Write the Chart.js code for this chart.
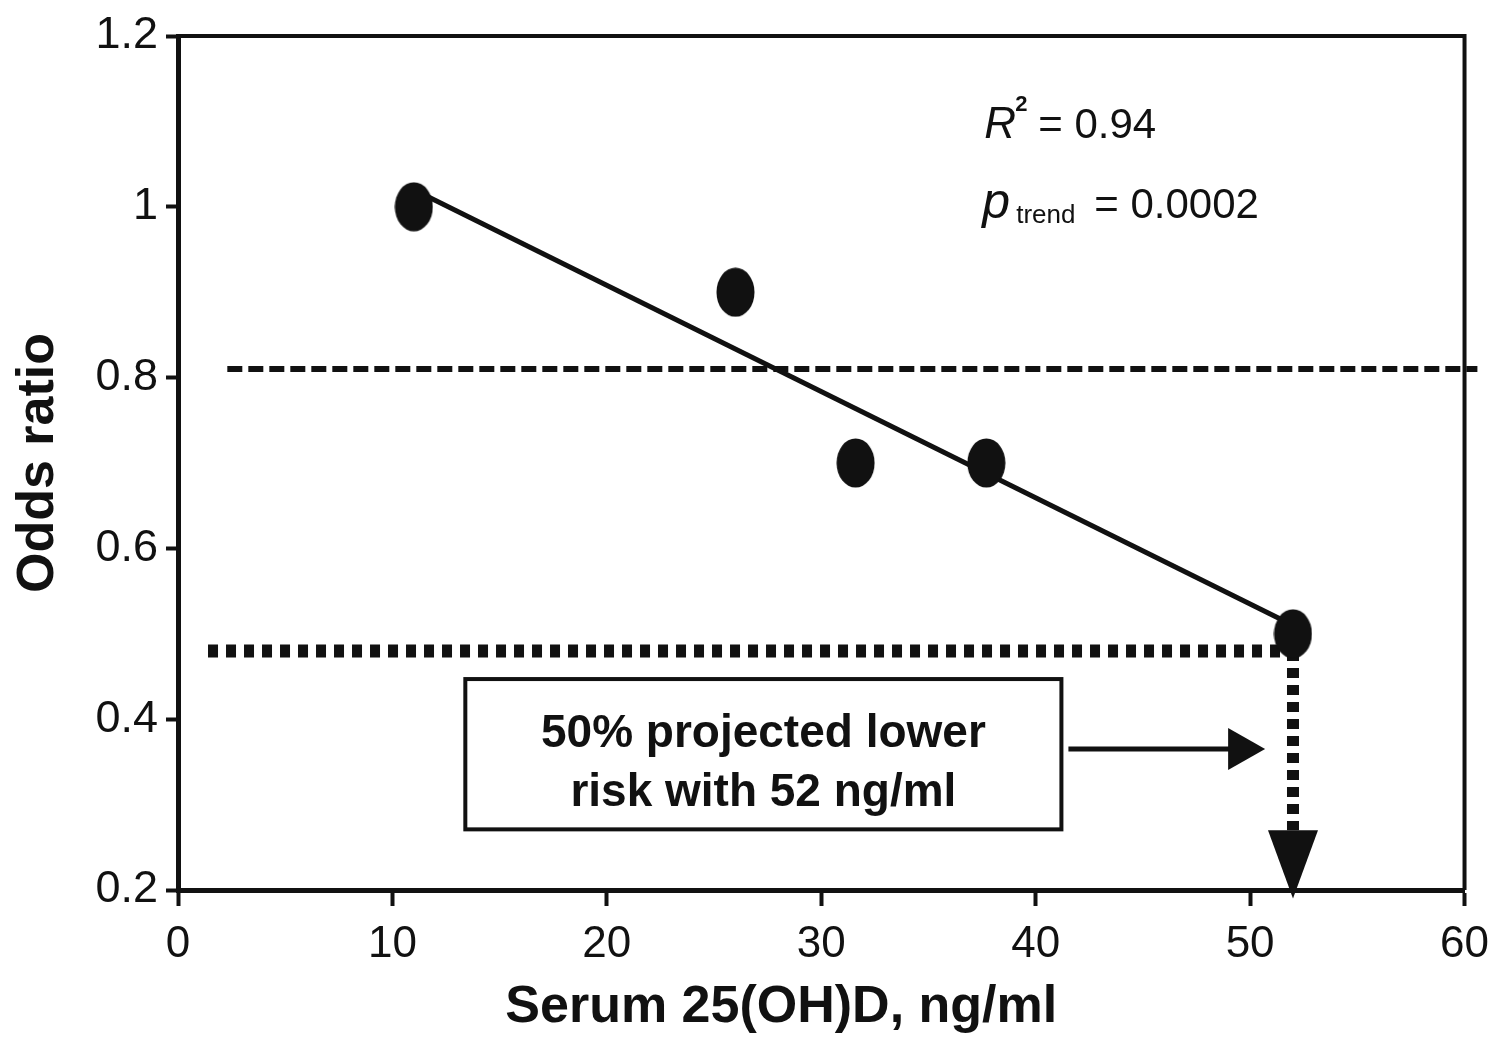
<!DOCTYPE html>
<html>
<head>
<meta charset="utf-8">
<title>Serum 25(OH)D and odds ratio</title>
<script src="https://cdn.jsdelivr.net/npm/chart.js@4.4.1/dist/chart.umd.min.js"></script>
<style>
  html, body { margin: 0; padding: 0; background: #ffffff; }
  canvas { display: block; }
</style>
</head>
<body>
<canvas id="chart" width="1501" height="1038"></canvas>
<script>
// Odds ratio by serum 25(OH)D level (ng/ml)
const serum = [11, 26, 31.6, 37.7, 52];
const oddsRatio = [1.0, 0.9, 0.7, 0.7, 0.5];

// fitted trend line, end points
const trendX = [11, 52];
const trendY = [1.02, 0.51];

// dashed reference line
const refX = [2.3, 60.6];
const refY = [0.81, 0.81];

// projected risk guide lines
const projX = [1.4, 51.5];
const projY = [0.48, 0.48];
const dropX = [52, 52];
const dropY = [0.48, 0.27];
const dropTipY = 0.19;

// axis ticks
const xTicks = [0, 10, 20, 30, 40, 50, 60];
const yTicks = [0.2, 0.4, 0.6, 0.8, 1, 1.2];
const yTickLabels = ['0.2', '0.4', '0.6', '0.8', '1', '1.2'];

// text
const xTitle = 'Serum 25(OH)D, ng/ml';
const yTitle = 'Odds ratio';
const noteLines = ['50% projected lower', 'risk with 52 ng/ml'];
const r2Text = '0.94';
const pTrendText = '0.0002';

const FONT = '"Liberation Sans", Arial, Helvetica, sans-serif';
const INK = '#111111';

const pairs = (xs, ys) => xs.map((v, i) => ({ x: v, y: ys[i] }));

// filled ellipse used as the point marker
function ellipseMarker(w, h) {
  const c = document.createElement('canvas');
  c.width = w; c.height = h;
  const g = c.getContext('2d');
  g.fillStyle = INK;
  g.beginPath();
  g.ellipse(w / 2, h / 2, w / 2 - 0.5, h / 2 - 0.5, 0, 0, Math.PI * 2);
  g.fill();
  return c;
}
const marker = ellipseMarker(39, 50);

const overlay = {
  id: 'overlay',
  afterDatasetsDraw(chart) {
    const { ctx, chartArea: a, scales: { x, y } } = chart;
    ctx.save();
    ctx.strokeStyle = INK;
    ctx.fillStyle = INK;

    // top and right frame
    ctx.lineWidth = 4;
    ctx.beginPath();
    ctx.moveTo(a.left, a.top);
    ctx.lineTo(a.right, a.top);
    ctx.lineTo(a.right, a.bottom);
    ctx.stroke();

    // downward arrow head at the end of the drop line
    const dx = x.getPixelForValue(dropX[1]);
    const baseY = y.getPixelForValue(dropY[1]);
    const tipY = y.getPixelForValue(dropTipY);
    ctx.beginPath();
    ctx.moveTo(dx - 25, baseY);
    ctx.lineTo(dx + 25, baseY);
    ctx.lineTo(dx, tipY);
    ctx.closePath();
    ctx.fill();

    // note box
    const bx0 = x.getPixelForValue(13.4), bx1 = x.getPixelForValue(41.2);
    const by0 = y.getPixelForValue(0.447), by1 = y.getPixelForValue(0.271);
    ctx.lineWidth = 4;
    ctx.fillStyle = '#ffffff';
    ctx.fillRect(bx0, by0, bx1 - bx0, by1 - by0);
    ctx.strokeRect(bx0, by0, bx1 - bx0, by1 - by0);
    ctx.fillStyle = INK;
    ctx.font = 'bold 46px ' + FONT;
    ctx.textAlign = 'center';
    ctx.textBaseline = 'alphabetic';
    const cx = (bx0 + bx1) / 2;
    ctx.fillText(noteLines[0], cx, by0 + 68);
    ctx.fillText(noteLines[1], cx, by0 + 127);

    // arrow from the box to the drop line
    const ay = y.getPixelForValue(0.365);
    const tipX = x.getPixelForValue(50.7);
    ctx.lineWidth = 5;
    ctx.beginPath();
    ctx.moveTo(bx1 + 7, ay);
    ctx.lineTo(tipX - 34, ay);
    ctx.stroke();
    ctx.beginPath();
    ctx.moveTo(tipX - 37, ay - 21);
    ctx.lineTo(tipX, ay);
    ctx.lineTo(tipX - 37, ay + 21);
    ctx.closePath();
    ctx.fill();

    // fit statistics
    const sx = x.getPixelForValue(37.6);
    const r2Base = y.getPixelForValue(1.08);
    ctx.textAlign = 'left';
    ctx.font = 'italic 44px ' + FONT;
    ctx.fillText('R', sx, r2Base);
    ctx.font = 'bold 22px ' + FONT;
    ctx.fillText('2', sx + 31, r2Base - 27);
    ctx.font = '42px ' + FONT;
    ctx.fillText('= ' + r2Text, sx + 54, r2Base);

    const pBase = y.getPixelForValue(0.987);
    ctx.font = 'italic 50px ' + FONT;
    ctx.fillText('p', sx - 2, pBase);
    ctx.font = '26px ' + FONT;
    ctx.fillText('trend', sx + 32, pBase + 5);
    ctx.font = '42px ' + FONT;
    ctx.fillText('= ' + pTrendText, sx + 110, pBase);

    // x axis title
    ctx.font = 'bold 52px ' + FONT;
    ctx.textAlign = 'center';
    ctx.textBaseline = 'middle';
    ctx.fillText(xTitle, (a.left + a.right) / 2 - 40, 1008);

    ctx.restore();
  }
};

new Chart(document.getElementById('chart'), {
  type: 'scatter',
  data: {
    datasets: [
      {
        label: 'Odds ratio',
        data: pairs(serum, oddsRatio),
        pointStyle: marker,
        showLine: false,
        order: 0
      },
      {
        label: 'Trend',
        data: pairs(trendX, trendY),
        showLine: true,
        borderColor: INK,
        borderWidth: 5,
        pointRadius: 0,
        order: 1
      },
      {
        label: 'Reference',
        data: pairs(refX, refY),
        showLine: true,
        borderColor: INK,
        borderWidth: 6,
        borderDash: [15, 6],
        pointRadius: 0,
        clip: false,
        order: 2
      },
      {
        label: 'Projection',
        data: pairs(projX, projY),
        showLine: true,
        borderColor: INK,
        borderWidth: 13,
        borderDash: [10, 8],
        pointRadius: 0,
        clip: false,
        order: 3
      },
      {
        label: 'Drop',
        data: pairs(dropX, dropY),
        showLine: true,
        borderColor: INK,
        borderWidth: 12,
        borderDash: [10, 7],
        pointRadius: 0,
        clip: false,
        order: 4
      }
    ]
  },
  options: {
    responsive: false,
    animation: false,
    devicePixelRatio: 1,
    layout: { padding: { top: 36, right: 34, bottom: 0, left: 0 } },
    plugins: {
      legend: { display: false },
      tooltip: { enabled: false }
    },
    scales: {
      x: {
        type: 'linear',
        min: 0,
        max: 60,
        afterBuildTicks: s => { s.ticks = xTicks.map(v => ({ value: v })); },
        afterFit: s => { s.height = 148; },
        border: { display: true, color: INK, width: 5 },
        grid: { display: true, drawOnChartArea: false, drawTicks: true, tickLength: 16, tickWidth: 4, tickColor: INK },
        ticks: { color: INK, font: { family: FONT, size: 44 }, padding: 12, maxRotation: 0 },
        title: { display: false }
      },
      y: {
        type: 'linear',
        min: 0.2,
        max: 1.2,
        afterBuildTicks: s => { s.ticks = yTicks.map(v => ({ value: v })); },
        afterFit: s => { s.width = 178; },
        border: { display: true, color: INK, width: 5 },
        grid: { display: true, drawOnChartArea: false, drawTicks: true, tickLength: 12, tickWidth: 4, tickColor: INK },
        ticks: {
          color: INK,
          font: { family: FONT, size: 45 },
          padding: 8,
          callback: (v) => { const i = yTicks.indexOf(v); return i >= 0 ? yTickLabels[i] : ''; }
        },
        title: {
          display: true,
          text: yTitle,
          color: INK,
          font: { family: FONT, size: 52, weight: 'bold' },
          padding: { top: 7, bottom: 0 }
        }
      }
    }
  },
  plugins: [overlay]
});
</script>
</body>
</html>
